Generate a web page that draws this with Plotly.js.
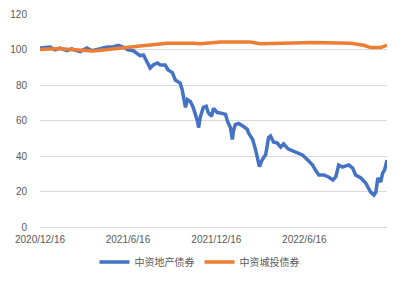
<!DOCTYPE html>
<html>
<head>
<meta charset="utf-8">
<script src="https://cdn.plot.ly/plotly-3.0.1.min.js"></script>
<style>html,body{margin:0;padding:0;background:#fff;}#chart{width:403px;height:282px;}</style>
</head>
<body>
<div id="chart"></div>
<script>
// Series names
const seriesNames = ['中资地产债券', '中资城投债券'];

// 中资地产债券 (blue)
const propDates = ['2020-12-16','2020-12-26','2021-01-06','2021-01-16','2021-01-26','2021-02-10','2021-02-20','2021-03-09','2021-03-23','2021-04-03','2021-04-19','2021-05-04','2021-05-16','2021-05-27','2021-06-06','2021-06-16','2021-06-27','2021-07-05','2021-07-11','2021-07-18','2021-07-26','2021-08-01','2021-08-07','2021-08-16','2021-08-22','2021-09-01','2021-09-07','2021-09-16','2021-09-22','2021-10-02','2021-10-06','2021-10-09','2021-10-13','2021-10-17','2021-10-23','2021-10-29','2021-11-07','2021-11-09','2021-11-13','2021-11-19','2021-11-25','2021-11-29','2021-12-06','2021-12-10','2021-12-18','2021-12-28','2022-01-04','2022-01-08','2022-01-14','2022-01-18','2022-01-20','2022-01-24','2022-01-31','2022-02-10','2022-02-18','2022-02-20','2022-03-01','2022-03-07','2022-03-11','2022-03-15','2022-03-21','2022-03-28','2022-04-03','2022-04-07','2022-04-13','2022-04-21','2022-04-28','2022-05-04','2022-05-14','2022-05-25','2022-06-02','2022-06-12','2022-06-23','2022-07-03','2022-07-09','2022-07-16','2022-07-26','2022-08-05','2022-08-14','2022-08-20','2022-08-26','2022-09-03','2022-09-10','2022-09-16','2022-09-24','2022-09-30','2022-10-11','2022-10-21','2022-10-31','2022-11-07','2022-11-11','2022-11-15','2022-11-21','2022-11-25','2022-11-29','2022-12-04'];
const propValues = [100.8,101.2,101.4,99.8,100.8,99.3,100.3,98.8,100.8,99.3,100.3,101.4,101.4,102.3,101.4,99.8,99.3,98,96.5,96.9,92.4,89.6,91.3,92.4,91.3,91.3,88.5,87,82.8,81.1,77.5,73,67.4,71.8,70.7,67.4,59.5,56,62.3,67.4,68,64.5,62.3,66.8,64.5,64,63.4,59.5,56,49.3,53.8,57.7,58.3,56.6,55,53.2,49.3,43.6,39.2,34,38,40.8,50.4,51.3,47.9,47.3,45,46.8,43.9,42.8,41.7,40.6,37.7,34.9,32.1,29.3,29.3,28.2,26.5,28.2,34.9,33.8,34.4,34.9,33.2,29.3,27.6,24.8,19.7,18,19.7,27.6,25.4,30.4,32.1,37.7];

// 中资城投债券 (orange)
const lgfvDates = ['2020-12-16','2021-01-06','2021-01-26','2021-02-10','2021-03-09','2021-04-05','2021-04-30','2021-05-25','2021-06-21','2021-07-11','2021-08-01','2021-08-22','2021-09-05','2021-10-29','2021-11-13','2021-12-24','2022-02-04','2022-02-24','2022-03-17','2022-04-13','2022-06-02','2022-07-05','2022-09-20','2022-10-17','2022-10-31','2022-11-21','2022-12-04'];
const lgfvValues = [100,100.3,100.5,100.2,99.6,99.2,99.8,100.7,101.3,102,102.5,103,103.5,103.5,103.2,104.2,104,104.2,103.2,103.4,104.2,104,103.5,102.4,101.1,101.1,102.4];

// Axis ticks
const xTickVals = ['2020-12-16','2021-06-16','2021-12-16','2022-06-16'];
const xTickText = ['2020/12/16','2021/6/16','2021/12/16','2022/6/16'];
const yTickVals = [0,20,40,60,80,100,120];

const tickFont = {family: 'Liberation Sans, Arial, sans-serif', size: 10, color: '#595959'};

const traces = [
  {x: propDates, y: propValues, name: seriesNames[0], type: 'scatter', mode: 'lines',
   line: {color: '#4472C4', width: 3.5}},
  {x: lgfvDates, y: lgfvValues, name: seriesNames[1], type: 'scatter', mode: 'lines',
   line: {color: '#ED7D31', width: 3.5}}
];

const layout = {
  width: 403, height: 282,
  margin: {l: 40, r: 16, t: 14, b: 55, autoexpand: false},
  paper_bgcolor: '#fff', plot_bgcolor: '#fff',
  showlegend: true,
  legend: {orientation: 'h', xref: 'container', yref: 'container',
    x: 0.495, xanchor: 'center', y: 0.071, yanchor: 'middle',
    font: {family: 'Noto Sans CJK SC, sans-serif', size: 10, color: '#595959'},
    itemwidth: 30, tracegroupgap: 0},
  xaxis: {type: 'date', range: ['2020-12-16', '2022-12-04'],
    tickvals: xTickVals, ticktext: xTickText, tickfont: tickFont,
    showgrid: false, zeroline: false, showline: true, linecolor: '#d9d9d9', linewidth: 1,
    ticks: '', ticklabelstandoff: 3, fixedrange: true, automargin: false},
  yaxis: {range: [0, 120], tickvals: yTickVals, tickfont: tickFont,
    showgrid: true, gridcolor: '#d9d9d9', gridwidth: 1, zeroline: false, showline: false,
    ticks: '', ticklabelstandoff: 12, fixedrange: true, automargin: false}
};

Plotly.newPlot('chart', traces, layout, {displayModeBar: false, staticPlot: true});
</script>
</body>
</html>
